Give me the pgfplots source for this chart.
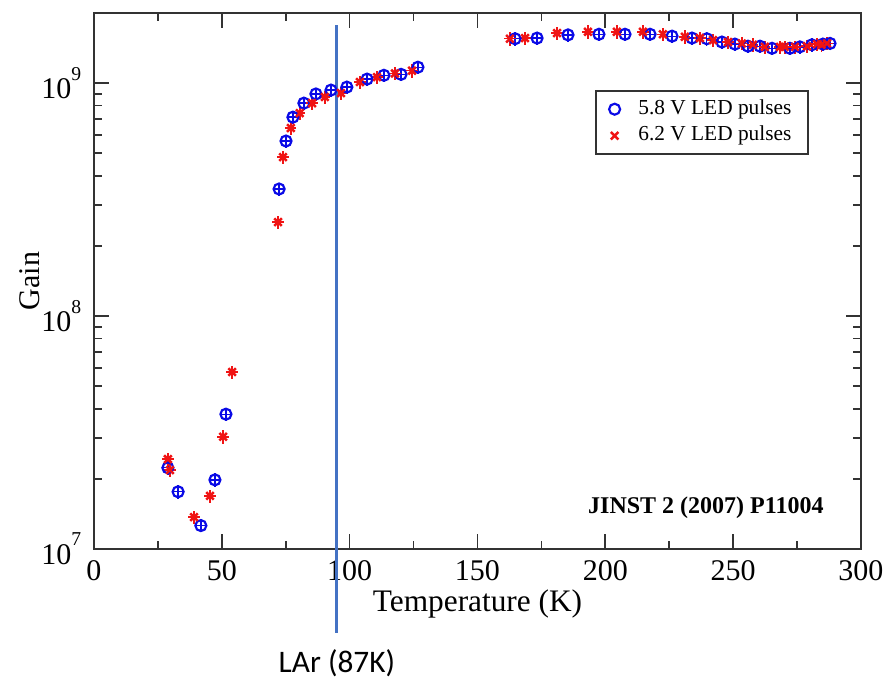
\documentclass[border=0pt]{standalone}
\usepackage{fontspec}
\setmainfont{Liberation Serif}
\newfontfamily\carlito{Carlito}
\usepackage{pgfplots}
\pgfplotsset{compat=1.18}
\definecolor{larblue}{RGB}{68,114,196}
\definecolor{ptblue}{RGB}{10,10,230}
\definecolor{ptred}{RGB}{240,20,20}
\newcommand{\tp}[1]{10\raisebox{0.62em}{\fontsize{5.9}{6}\selectfont #1}}
\begin{document}
\begin{tikzpicture}
\useasboundingbox (-28.2pt,-40.2pt) rectangle (237.9pt,164.7pt);
\begin{axis}[
  at={(0pt,0pt)}, anchor=south west,
  scale only axis, width=230.1pt, height=160.8pt,
  xmin=0, xmax=300, ymode=log, ymin=1e7, ymax=2e9,
  clip=false,
  xtick={0,50,...,300}, minor x tick num=1,
  ytick={1e7,1e8,1e9},
  yticklabels={\tp{7},\tp{8},\tp{9}},
  /pgf/number format/assume math mode=true,
  tick align=inside, xtick pos=both, ytick pos=both,
  major tick length=4.5pt, minor tick length=2.4pt,
  every tick/.style={black!80, line width=0.5pt},
  axis line style={black!80, line width=0.5pt},
  ticklabel style={font=\fontsize{9}{11}\selectfont},
  yticklabel style={xshift=-0.3pt},
  xlabel={Temperature (K)},
  ylabel={Gain},
  xlabel style={font=\fontsize{9.4}{11}\selectfont, at={(axis description cs:0.5,0)}, anchor=center, yshift=-16.6pt},
  ylabel style={font=\fontsize{9}{11}\selectfont, at={(axis description cs:0,0.5)}, anchor=center, yshift=19.2pt},
  legend style={at={(rel axis cs:0.932,0.856)}, anchor=north east, draw=black!80, line width=0.5pt,
    font=\fontsize{6.4}{7.5}\selectfont, inner xsep=4pt, inner ysep=1.5pt, row sep=0pt, column sep=4.5pt,
    nodes={inner sep=1pt}},
  legend cell align=left,
  legend image code/.code={\draw[#1] plot coordinates {(0pt,0pt)};},
]
\addplot+[only marks, mark=o, color=ptblue, mark size=1.65pt, mark options={line width=0.65pt},
  error bars/.cd, x dir=both, x fixed=2.2, y dir=both, y fixed relative=0.065, error mark=none,
  error bar style={line width=0.4pt, color=ptblue}]
coordinates {
(28.9,2.23e7) (32.9,1.76e7) (41.8,1.26e7) (47.3,1.98e7) (51.6,3.79e7)
(72.4,3.51e8) (75.1,5.64e8) (77.8,7.14e8) (82.1,8.2e8) (86.8,8.98e8)
(92.7,9.33e8) (98.9,9.61e8) (106.8,1.04e9) (113.4,1.08e9) (120.1,1.09e9) (126.7,1.17e9)
(164.7,1.55e9) (173.3,1.56e9) (185.4,1.61e9) (197.5,1.62e9) (207.7,1.62e9)
(217.5,1.62e9) (226.1,1.59e9) (233.9,1.56e9) (239.7,1.55e9) (245.6,1.50e9)
(250.7,1.47e9) (255.8,1.44e9) (260.5,1.44e9) (265.2,1.41e9) (272.2,1.41e9)
(276.1,1.43e9) (280.8,1.46e9) (285.1,1.47e9) (287.9,1.48e9)
};
\addlegendentry{5.8 V LED pulses}
\addplot+[only marks, mark=x, color=ptred, mark size=1.6pt, mark options={line width=0.75pt},
  error bars/.cd, x dir=both, x fixed=2.2, y dir=both, y fixed relative=0.065, error mark=none,
  error bar style={line width=0.45pt, color=ptred}]
coordinates {
(28.9,2.43e7) (29.7,2.18e7) (39.1,1.37e7) (45.4,1.69e7) (50.5,3.03e7) (54.0,5.75e7)
(72.0,2.53e8) (73.9,4.81e8) (77.0,6.41e8) (80.5,7.43e8) (85.3,8.2e8) (90.3,8.71e8)
(96.6,9.06e8) (104.0,1.01e9) (110.7,1.06e9) (117.7,1.10e9) (124.4,1.13e9)
(162.7,1.55e9) (168.6,1.56e9) (181.1,1.64e9) (193.2,1.66e9) (204.5,1.66e9)
(214.7,1.66e9) (222.5,1.62e9) (231.1,1.58e9) (237.0,1.56e9) (242.1,1.53e9)
(248.0,1.50e9) (253.4,1.48e9) (257.7,1.46e9) (262.4,1.43e9) (268.3,1.43e9)
(270.2,1.43e9) (274.2,1.43e9) (278.9,1.44e9) (282.8,1.47e9) (284.5,1.46e9) (286.7,1.48e9)
};
\addlegendentry{6.2 V LED pulses}
\node[anchor=east, inner sep=0pt, font=\bfseries\fontsize{7.2}{8}\selectfont] at (rel axis cs:0.952,0.0765) {JINST 2 (2007) P11004};
\draw[color=larblue, line width=0.9pt] (axis cs:95,1.77e9) -- (axis cs:95,4.35e6);
\node[font=\carlito\fontsize{9.4}{11}\selectfont] at ([yshift=-34.2pt]axis cs:95,1e7) {LAr (87K)};
\end{axis}
\end{tikzpicture}
\end{document}
